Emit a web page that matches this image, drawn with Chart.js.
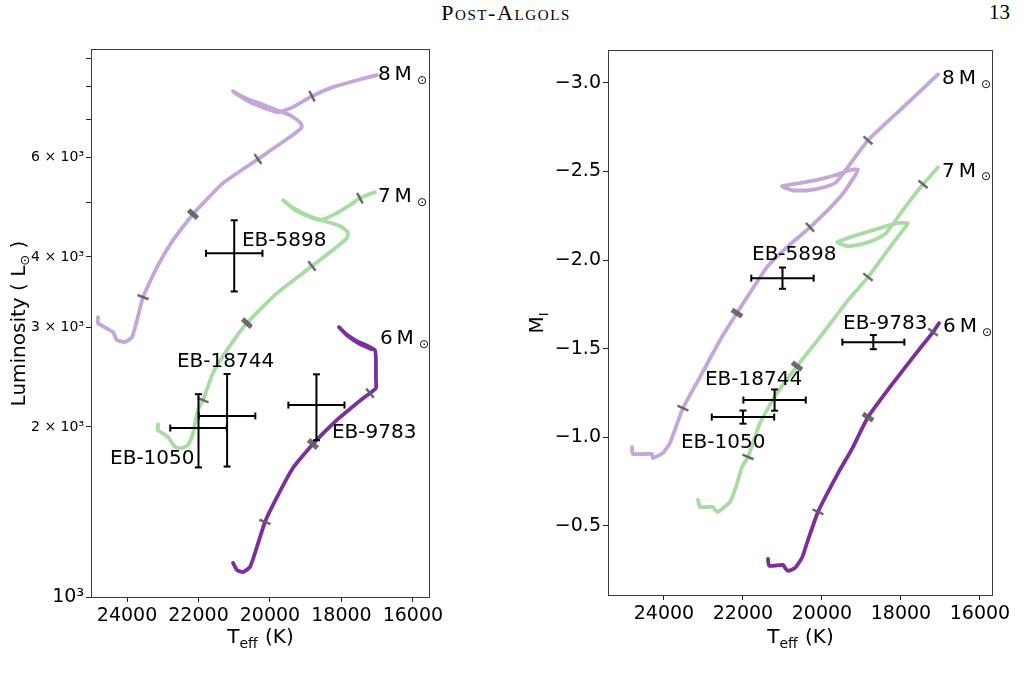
<!DOCTYPE html>
<html>
<head>
<meta charset="utf-8">
<title>Post-Algols</title>
<script src="https://cdn.jsdelivr.net/npm/chart.js@4.4.1/dist/chart.umd.min.js"></script>
<style>
  html, body { margin:0; padding:0; background:#fff; }
  body { width:1026px; height:697px; position:relative; overflow:hidden; }
  #hdr { position:absolute; left:356px; width:300px; top:0px; text-align:center;
         font-family:'Liberation Serif','DejaVu Serif',serif; font-variant:small-caps; font-size:22px; letter-spacing:1.6px; color:#000; }
  #pg { position:absolute; left:960px; width:50px; top:0px; text-align:right;
        font-family:'Liberation Serif','DejaVu Serif',serif; font-size:21px; color:#000; }
  canvas { position:absolute; top:0; }
  #cL { left:0; }
  #cR { left:500px; }
</style>
</head>
<body>
<div id="hdr">Post-Algols</div>
<div id="pg">13</div>
<canvas id="cL" width="480" height="697"></canvas>
<canvas id="cR" width="526" height="697"></canvas>
<script>
// ================= DATA =================
// Left panel: luminosity (L_sun) vs Teff (K)
const track8L_T = [24811,24811,24392,24280,24056,23860,23720,23552,23161,22713,22154,21315,20336,19441,19105,19161,19441,19804,20224,20616,20895,21035,20839,20504,20140,19777,19357,18826,18238,17567,17008];
const track8L_L = [3130,3055,2944,2850,2827,2885,3092,3396,3837,4284,4763,5404,5961,6521,6792,6931,7131,7277,7458,7611,7768,7864,7704,7488,7338,7218,7368,7704,7993,8222,8392];
const track7L_T = [23133,23133,22853,22657,22462,22294,22182,22098,22014,21874,21595,21203,20644,19804,18826,18238,17847,17819,18042,18378,18658,19021,19385,19637,19301,18937,18602,18182,17763,17483,17063];
const track7L_L = [2024,1975,1920,1843,1835,1858,1920,2032,2143,2232,2492,2736,3055,3451,3854,4114,4320,4426,4537,4611,4667,4763,4901,5043,4842,4724,4648,4763,4941,5084,5210];
const track6L_T = [21035,20923,20755,20560,20420,20140,19804,19357,18798,18126,17567,17203,17035,17035,17035,17063,17259,17567,17875,18070,17819,17483,17147];
const track6L_L = [1149,1116,1107,1130,1196,1358,1503,1692,1866,2058,2204,2296,2344,2452,2627,2736,2781,2839,2921,3005,2897,2804,2747];
// age markers along the tracks (left panel)
const ages8L_T = [23552,22154,20336,18826];
const ages8L_L = [3396,4763,5961,7704];
const ages7L_T = [21874,20644,18826,17483];
const ages7L_L = [2232,3055,3854,5084];
const ages6L_T = [20140,18798,17203];
const ages6L_L = [1358,1866,2296];

// Right panel: M_I vs Teff (K)
const track8R_T = [24810,24785,24304,24279,24025,23848,23519,23088,22582,22152,21392,20886,20303,19544,19240,19088,19290,19670,20177,20607,21012,20759,20354,19949,19645,18835,17949,17062];
const track8R_M = [-0.945,-0.906,-0.906,-0.883,-0.912,-0.968,-1.165,-1.340,-1.548,-1.701,-1.960,-2.073,-2.185,-2.355,-2.450,-2.512,-2.507,-2.479,-2.450,-2.433,-2.417,-2.394,-2.394,-2.411,-2.439,-2.676,-2.862,-3.048];
const track7R_T = [23139,23088,22759,22709,22633,22329,22177,22025,21873,21569,21139,20632,20050,19341,18835,18278,17949,17822,18075,18480,18885,19290,19620,19341,18987,18632,18379,17898,17442,17062];
const track7R_M = [-0.647,-0.607,-0.607,-0.590,-0.579,-0.635,-0.720,-0.833,-0.889,-1.081,-1.250,-1.402,-1.565,-1.774,-1.904,-2.073,-2.169,-2.208,-2.208,-2.185,-2.157,-2.129,-2.101,-2.078,-2.090,-2.118,-2.152,-2.298,-2.428,-2.524];
const track6R_T = [21367,21341,20987,20936,20860,20683,20506,20354,20101,19620,19215,18835,18202,17594,17189,17037];
const track6R_M = [-0.314,-0.275,-0.280,-0.263,-0.246,-0.263,-0.320,-0.421,-0.579,-0.787,-0.945,-1.114,-1.306,-1.481,-1.594,-1.644];
const ages8R_T = [23519,22152,20303,18835];
const ages8R_M = [-1.165,-1.701,-2.185,-2.676];
const ages7R_T = [21873,20632,18835,17442];
const ages7R_M = [-0.889,-1.402,-1.904,-2.428];
const ages6R_T = [20101,18835,17189];
const ages6R_M = [-0.579,-1.114,-1.594];

// Observed systems
const ebNames   = ['EB-5898','EB-18744','EB-1050','EB-9783'];
const ebTeff    = [21000, 21200, 22000, 18700];
const ebTeffErr = [790, 790, 790, 785];
const ebLum     = [4060, 2092, 1991, 2187];
const ebLumErr  = [585, 390, 295, 292];
const ebMI      = [-1.898, -1.210, -1.114, -1.537];
const ebMIErr   = [0.06, 0.06, 0.037, 0.04];

const trackMasses = ['8', '7', '6'];

// Tick labels
const xTickValues = [16000, 18000, 20000, 22000, 24000];
const xTickLabels = ['16000', '18000', '20000', '22000', '24000'];
const lumTickValues = [1000, 2000, 3000, 4000, 5000, 6000, 7000, 8000, 9000];
const lumTickLabels = ['10³', '2 × 10³', '3 × 10³', '4 × 10³', '', '6 × 10³', '', '', ''];
const magTickValues = [-3.0, -2.5, -2.0, -1.5, -1.0, -0.5];
const magTickLabels = ['−3.0', '−2.5', '−2.0', '−1.5', '−1.0', '−0.5'];

// Text annotation anchors (data coordinates; left edge, vertical middle)
const labelAnchorsL = {
  eb:    [{x:20783, y:4267}, {x:22602, y:2606}, {x:24475, y:1755}, {x:18266, y:1951}],
  track: [{x:16980, y:8392}, {x:16980, y:5105}, {x:16924, y:2862}]
};
const labelAnchorsR = {
  eb:    [{x:21772, y:-2.028}, {x:22962, y:-1.323}, {x:23570, y:-0.968}, {x:19468, y:-1.639}],
  track: [{x:16961, y:-3.025}, {x:16961, y:-2.501}, {x:16936, y:-1.622}]
};

// ================= STYLE / BUILD =================
const FONT = "'DejaVu Sans', sans-serif";
Chart.defaults.font.family = FONT;
Chart.defaults.color = '#000';
const COLORS = { m8:'#c4a6d8', m7:'#a9dca3', m6:'#7b2e9c', age:'rgba(95,95,95,0.92)', ink:'#000' };
const trackColors = [COLORS.m8, COLORS.m7, COLORS.m6];

const zip = (xs, ys) => xs.map((x, i) => ({x, y: ys[i]}));

function trackDataset(xs, ys, color, order) {
  return { type:'scatter', data: zip(xs, ys), showLine:true, borderColor:color, backgroundColor:color,
           borderWidth:3.8, pointRadius:0, pointHoverRadius:0, tension:0.15, order,
           borderCapStyle:'round', borderJoinStyle:'round' };
}

function tickAngle(ctx) {
  const chart = ctx.chart, ds = ctx.dataset;
  const xs = chart.scales.x, ys = chart.scales.y;
  const p = ctx.raw;
  if (!p || !xs || !ys) return 0;
  const track = chart.data.datasets[ds.trackIndex].data;
  const px = xs.getPixelForValue(p.x), py = ys.getPixelForValue(p.y);
  let best = Infinity, bi = 0;
  track.forEach((q, i) => {
    const dx = xs.getPixelForValue(q.x) - px, dy = ys.getPixelForValue(q.y) - py;
    const d = dx*dx + dy*dy;
    if (d < best) { best = d; bi = i; }
  });
  const a = track[Math.max(bi-1, 0)], b = track[Math.min(bi+1, track.length-1)];
  const ang = Math.atan2(ys.getPixelForValue(b.y) - ys.getPixelForValue(a.y),
                         xs.getPixelForValue(b.x) - xs.getPixelForValue(a.x));
  return ang * 180 / Math.PI + 90;
}

function ageDataset(xs, ys, trackIndex) {
  return { type:'scatter', data: zip(xs, ys), trackIndex, showLine:false,
           pointStyle:'line', pointRadius:6, pointHoverRadius:6,
           pointBorderColor:COLORS.age, pointBackgroundColor:COLORS.age,
           pointBorderWidth:(c) => c.dataIndex === 1 ? 5 : 2.5,
           pointRotation: tickAngle, order:1 };
}

function errorBars(cx, cy, ex, ey) {
  const common = { type:'scatter', showLine:true, borderColor:COLORS.ink, borderWidth:2,
                   pointStyle:'line', pointRadius:3.5, pointHoverRadius:3.5,
                   pointBorderColor:COLORS.ink, pointBorderWidth:2, tension:0, order:0 };
  return [
    Object.assign({}, common, { data:[{x:cx-ex, y:cy}, {x:cx+ex, y:cy}], pointRotation:90 }),
    Object.assign({}, common, { data:[{x:cx, y:cy-ey}, {x:cx, y:cy+ey}], pointRotation:0 })
  ];
}

function drawRich(ctx, parts, x, y, align) {
  let total = 0;
  parts.forEach(p => { ctx.font = p.size + 'px ' + FONT; p.w = ctx.measureText(p.t).width; total += p.w + (p.gap || 0); });
  let cx = align === 'center' ? x - total/2 : x;
  parts.forEach(p => {
    ctx.font = p.size + 'px ' + FONT;
    ctx.fillText(p.t, cx, y + (p.dy || 0));
    cx += p.w + (p.gap || 0);
  });
}

function annotPlugin(anchors, xTitleY, yTitle) {
  return {
    id: 'annot',
    afterDatasetsDraw(chart) {
      const {ctx, chartArea:a, scales} = chart;
      ctx.save();
      // frame
      ctx.strokeStyle = '#3a3a3a'; ctx.lineWidth = 1;
      ctx.strokeRect(Math.round(a.left) - 0.5, Math.round(a.top) - 0.5,
                     Math.round(a.right - a.left) + 1, Math.round(a.bottom - a.top) + 1);
      ctx.fillStyle = COLORS.ink;
      ctx.textAlign = 'left';
      ctx.textBaseline = 'middle';
      // system labels
      ctx.font = '20px ' + FONT;
      anchors.eb.forEach((p, i) => {
        ctx.fillText(ebNames[i], scales.x.getPixelForValue(p.x), scales.y.getPixelForValue(p.y));
      });
      // mass labels
      anchors.track.forEach((p, i) => {
        const x = scales.x.getPixelForValue(p.x), y = scales.y.getPixelForValue(p.y);
        drawRich(ctx, [{t:trackMasses[i], size:20, gap:4}, {t:'M', size:20, gap:5}, {t:'⊙', size:12, dy:6}], x, y, 'left');
      });
      // x title
      ctx.textBaseline = 'alphabetic';
      drawRich(ctx, [{t:'T', size:20}, {t:'eff', size:14, dy:5, gap:1}, {t:' (K)', size:20}], (a.left + a.right)/2, xTitleY, 'center');
      // y title (rotated)
      ctx.translate(yTitle.x, (a.top + a.bottom)/2);
      ctx.rotate(-Math.PI/2);
      drawRich(ctx, yTitle.parts, 0, 0, 'center');
      ctx.restore();
    }
  };
}

function xScale(min, max, height) {
  return {
    type:'linear', reverse:true, min, max,
    afterBuildTicks: s => { s.ticks = xTickValues.map(v => ({value:v})); },
    afterFit: s => { s.height = height; },
    ticks: { autoSkip:false, maxRotation:0, padding:3, font:{size:19}, color:'#000',
             callback: v => xTickLabels[xTickValues.indexOf(v)] },
    grid: { display:true, drawOnChartArea:false, drawTicks:true, tickLength:5, tickColor:'#222', tickWidth:1 },
    border: { display:false },
    title: { display:false }
  };
}

const commonOpts = {
  responsive:false, animation:false, devicePixelRatio:1, events:[],
  plugins:{ legend:{display:false}, tooltip:{enabled:false} }
};

// ---------- Left chart ----------
const dsL = [
  trackDataset(track8L_T, track8L_L, trackColors[0], 4),
  trackDataset(track7L_T, track7L_L, trackColors[1], 3),
  trackDataset(track6L_T, track6L_L, trackColors[2], 2),
  ageDataset(ages8L_T, ages8L_L, 0),
  ageDataset(ages7L_T, ages7L_L, 1),
  ageDataset(ages6L_T, ages6L_L, 2)
];
ebNames.forEach((n, i) => dsL.push(...errorBars(ebTeff[i], ebLum[i], ebTeffErr[i], ebLumErr[i])));

new Chart(document.getElementById('cL'), {
  type:'scatter',
  data:{ datasets: dsL },
  options: Object.assign({}, commonOpts, {
    layout:{ padding:{ left:0, right:51, top:50, bottom:0 } },
    scales:{
      x: xScale(15550, 24980, 100),
      y: {
        type:'logarithmic', min:1000, max:9300,
        afterBuildTicks: s => { s.ticks = lumTickValues.map(v => ({value:v})); },
        afterFit: s => { s.width = 92; },
        ticks: { autoSkip:false, padding:2, color:'#000',
                 font: c => ({ size: (c.tick && c.tick.value === 1000) ? 19 : 14, family: FONT }),
                 callback: v => lumTickLabels[lumTickValues.indexOf(v)] },
        grid: { display:true, drawOnChartArea:false, drawTicks:true, tickLength:6, tickColor:'#222', tickWidth:1 },
        border: { display:false }
      }
    }
  }),
  plugins:[ annotPlugin(labelAnchorsL, 643, { x:25, parts:[{t:'Luminosity ( L', size:20}, {t:'⊙', size:13, dy:4}, {t:' )', size:20}] }) ]
});

// ---------- Right chart ----------
const dsR = [
  trackDataset(track8R_T, track8R_M, trackColors[0], 4),
  trackDataset(track7R_T, track7R_M, trackColors[1], 3),
  trackDataset(track6R_T, track6R_M, trackColors[2], 2),
  ageDataset(ages8R_T, ages8R_M, 0),
  ageDataset(ages7R_T, ages7R_M, 1),
  ageDataset(ages6R_T, ages6R_M, 2)
];
ebNames.forEach((n, i) => dsR.push(...errorBars(ebTeff[i], ebMI[i], ebTeffErr[i], ebMIErr[i])));

new Chart(document.getElementById('cR'), {
  type:'scatter',
  data:{ datasets: dsR },
  options: Object.assign({}, commonOpts, {
    layout:{ padding:{ left:0, right:34, top:51, bottom:0 } },
    scales:{
      x: xScale(15696, 25392, 102),
      y: {
        type:'linear', reverse:true, min:-3.18, max:-0.11,
        afterBuildTicks: s => { s.ticks = magTickValues.map(v => ({value:v})); },
        afterFit: s => { s.width = 109; },
        ticks: { autoSkip:false, padding:2, color:'#000', font:{size:19},
                 callback: v => magTickLabels[magTickValues.indexOf(v)] },
        grid: { display:true, drawOnChartArea:false, drawTicks:true, tickLength:6, tickColor:'#222', tickWidth:1 },
        border: { display:false }
      }
    }
  }),
  plugins:[ annotPlugin(labelAnchorsR, 643, { x:43, parts:[{t:'M', size:20}, {t:'I', size:13, dy:5}] }) ]
});
</script>
</body>
</html>
